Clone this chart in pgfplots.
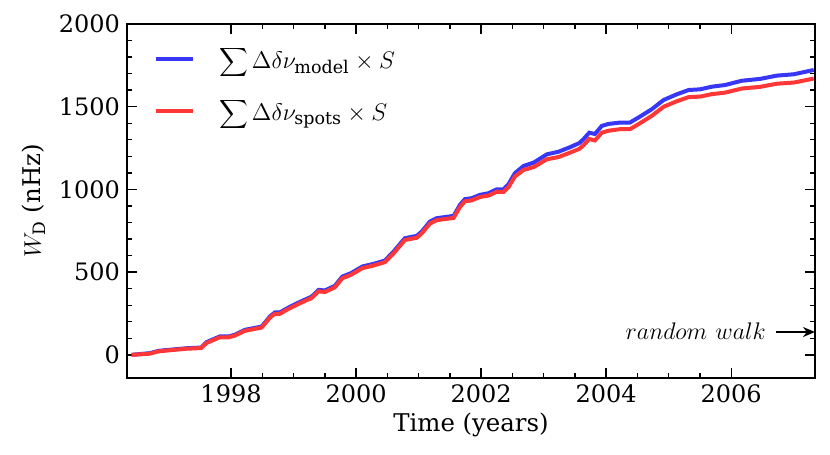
\documentclass[border=0pt]{standalone}
\usepackage{fontspec}
\setmainfont{DejaVu Serif}
\usepackage{pgfplots}
\pgfplotsset{compat=1.18}
\usetikzlibrary{arrows.meta}
\definecolor{cblue}{RGB}{55,55,245}
\definecolor{cred}{RGB}{255,55,55}
\begin{document}
\begin{tikzpicture}
\begin{axis}[
  scale only axis, width=344pt, height=177pt,
  xmin=1996.336, xmax=2007.34, ymin=-140, ymax=2000,
  xtick={1998,2000,2002,2004,2006}, minor x tick num=3,
  ytick={0,500,1000,1500,2000}, minor y tick num=4,
  tick align=inside, xtick pos=both, ytick pos=both,
  major tick length=5pt, minor tick length=2.5pt,
  every tick/.style={black, line width=0.7pt},
  axis line style={line width=1pt},
  /pgf/number format/1000 sep={},
  /pgf/number format/assume math mode=true,
  tick label style={font=\fontsize{12}{14}\selectfont},
  label style={font=\fontsize{12.2}{14}\selectfont},
  xlabel={Time (years)}, ylabel={$W_{\mathrm{D}}$ (nHz)},
  xlabel style={yshift=2pt},
  legend style={draw=none, fill=none, at={(0.03,0.96)}, anchor=north west,
    font=\fontsize{12.5}{14}\selectfont, row sep=9.5pt},
  legend cell align=left,
  legend image code/.code={\draw[#1] (0pt,0pt) -- (18.5pt,0pt);},
  /tikz/every odd column/.append style={column sep=10pt},
]
\addplot[cblue, line width=2pt] coordinates {
(1996.41,0) (1996.55,5) (1996.70,10) (1996.84,24) (1997.00,30) (1997.29,40)
(1997.52,44) (1997.61,77) (1997.82,111) (1997.96,111) (1998.06,121) (1998.22,151)
(1998.49,171) (1998.62,231) (1998.70,256) (1998.78,256) (1998.92,286) (1999.08,316)
(1999.29,352) (1999.40,393) (1999.50,389) (1999.66,417) (1999.78,473) (1999.92,494)
(2000.10,534) (2000.28,550) (2000.46,570) (2000.60,624) (2000.78,705) (2000.97,719)
(2001.05,745) (2001.18,805) (2001.29,826) (2001.56,840) (2001.66,906) (2001.74,941)
(2001.85,947) (2001.98,967) (2002.12,977) (2002.25,1001) (2002.36,1001) (2002.44,1033)
(2002.54,1098) (2002.68,1142) (2002.84,1162) (2003.05,1212) (2003.24,1228) (2003.42,1255)
(2003.57,1280) (2003.64,1305) (2003.73,1343) (2003.82,1335) (2003.93,1384) (2004.04,1396)
(2004.22,1404) (2004.38,1404) (2004.54,1440) (2004.73,1485) (2004.92,1541) (2005.13,1575)
(2005.32,1601) (2005.50,1605) (2005.69,1621) (2005.90,1631) (2006.17,1657) (2006.46,1668)
(2006.73,1688) (2007.00,1696) (2007.32,1722)
};
\addlegendentry{$\displaystyle\sum\Delta\delta\nu_{\mathrm{model}}\times S$}
\addplot[cred, line width=2pt] coordinates {
(1996.41,0) (1996.55,3) (1996.70,7) (1996.84,21) (1997.00,27) (1997.29,37)
(1997.52,41) (1997.61,72) (1997.82,106) (1997.96,106) (1998.06,116) (1998.22,145)
(1998.49,165) (1998.62,224) (1998.70,248) (1998.78,248) (1998.92,278) (1999.08,308)
(1999.29,344) (1999.40,384) (1999.50,380) (1999.66,408) (1999.78,463) (1999.92,484)
(2000.10,524) (2000.28,540) (2000.46,560) (2000.60,613) (2000.78,694) (2000.97,708)
(2001.05,734) (2001.18,793) (2001.29,814) (2001.56,828) (2001.66,893) (2001.74,928)
(2001.85,934) (2001.98,954) (2002.12,963) (2002.25,986) (2002.36,985) (2002.44,1015)
(2002.54,1078) (2002.68,1118) (2002.84,1135) (2003.05,1182) (2003.24,1196) (2003.42,1222)
(2003.57,1245) (2003.64,1268) (2003.73,1305) (2003.82,1296) (2003.93,1343) (2004.04,1355)
(2004.22,1364) (2004.38,1364) (2004.54,1400) (2004.73,1445) (2004.92,1500) (2005.13,1533)
(2005.32,1558) (2005.50,1561) (2005.69,1576) (2005.90,1585) (2006.17,1610) (2006.46,1620)
(2006.73,1639) (2007.00,1646) (2007.32,1670)
};
\addlegendentry{$\displaystyle\sum\Delta\delta\nu_{\mathrm{spots}}\times S$}
\draw[-{Stealth[length=6pt,width=5pt]}, line width=1pt] (axis cs:2006.72,138) -- (axis cs:2007.34,138);
\node[anchor=east, font=\fontsize{12.8}{14}\selectfont, inner sep=0pt] at (axis cs:2006.56,142) {$random\ walk$};
\coordinate (bl) at (rel axis cs:0,0);
\coordinate (tr) at (rel axis cs:1,1);
\end{axis}
\pgfresetboundingbox
\path ([shift={(-63.5pt,-38.5pt)}]bl) rectangle ([shift={(7.5pt,12pt)}]tr);
\end{tikzpicture}
\end{document}
